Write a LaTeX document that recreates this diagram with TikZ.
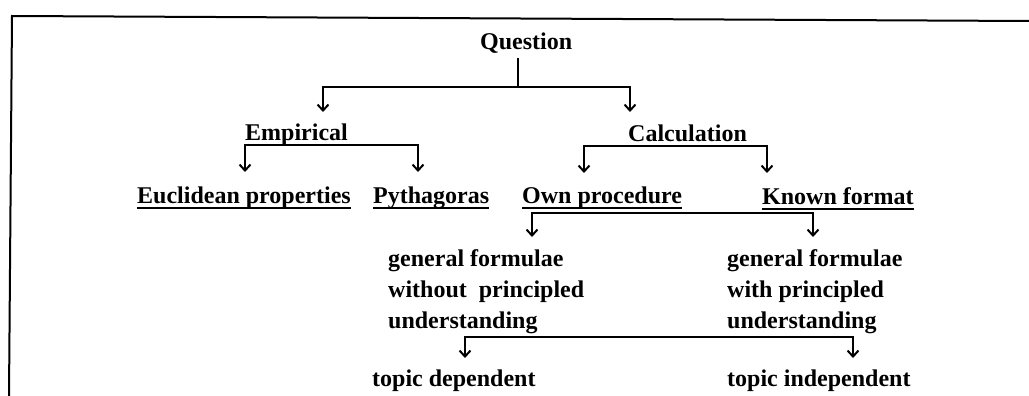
\documentclass[tikz,border=0pt]{standalone}
\usepackage{fontspec}
\setmainfont{Liberation Serif}
\usetikzlibrary{arrows.meta}
\begin{document}
\begin{tikzpicture}[x=1pt,y=-1pt,
  lbl/.style={inner sep=0pt, anchor=base west, font=\bfseries\fontsize{24}{29}\selectfont},
  ln/.style={line width=2pt},
  ul/.style={line width=1.8pt},
  brk/.style={line width=2pt, {Straight Barb[length=6pt,width=11pt]}-{Straight Barb[length=6pt,width=11pt]}}]
\useasboundingbox (0,0) rectangle (1029,396);
% frame
\coordinate (fb) at (9,396);
\coordinate (fc) at (12,16);
\coordinate (fr) at (1029,21);
\draw[ln] (fb) -- (fc) -- (fr);
% texts
\node[lbl] (q) at (480,50) {Question};
\node[lbl] (emp) at (245,140) {Empirical};
\node[lbl] (calc) at (628,141) {Calculation};
\node[lbl] (euc) at (137,203) {Euclidean properties};
\node[lbl] (pyt) at (373,203) {Pythagoras};
\node[lbl] (own) at (522,203) {Own procedure};
\node[lbl] (kno) at (762,204) {Known format};
\node[lbl] (ga1) at (388,266) {general formulae};
\node[lbl] (ga2) at (388,297) {without\ \ principled};
\node[lbl] (ga3) at (388,328) {understanding};
\node[lbl] (gb1) at (727,266) {general formulae};
\node[lbl] (gb2) at (727,297) {with principled};
\node[lbl] (gb3) at (727,328) {understanding};
\node[lbl] (td) at (372,386) {topic dependent};
\node[lbl] (ti) at (727,386) {topic independent};
% underlines
\foreach \n in {emp,calc,euc,pyt,own,kno}
  \draw[ul] ([yshift=-5pt]\n.base west) -- ([yshift=-5pt]\n.base east);
% Question branch
\coordinate (qs) at (518,58);
\coordinate (qj) at (518,87);
\coordinate (qt1) at (323,112);
\coordinate (qt2) at (630,112);
\draw[ln] (qs) -- (qj);
\draw[brk] (qt1) |- (qj) -| (qt2);
% Empirical branch
\coordinate (ej) at (300,145);
\coordinate (et1) at (245,172);
\coordinate (et2) at (418,172);
\draw[brk] (et1) |- (ej) -| (et2);
% Calculation branch
\coordinate (cj) at (680,146);
\coordinate (ct1) at (584,173);
\coordinate (ct2) at (767,173);
\draw[brk] (ct1) |- (cj) -| (ct2);
% Own procedure branch
\coordinate (oj) at (700,213);
\coordinate (ot1) at (532,237);
\coordinate (ot2) at (813,237);
\draw[brk] (ot1) |- (oj) -| (ot2);
% lower branch
\coordinate (lj) at (650,337);
\coordinate (lt1) at (465,358);
\coordinate (lt2) at (853,358);
\draw[brk] (lt1) |- (lj) -| (lt2);
\end{tikzpicture}
\end{document}
